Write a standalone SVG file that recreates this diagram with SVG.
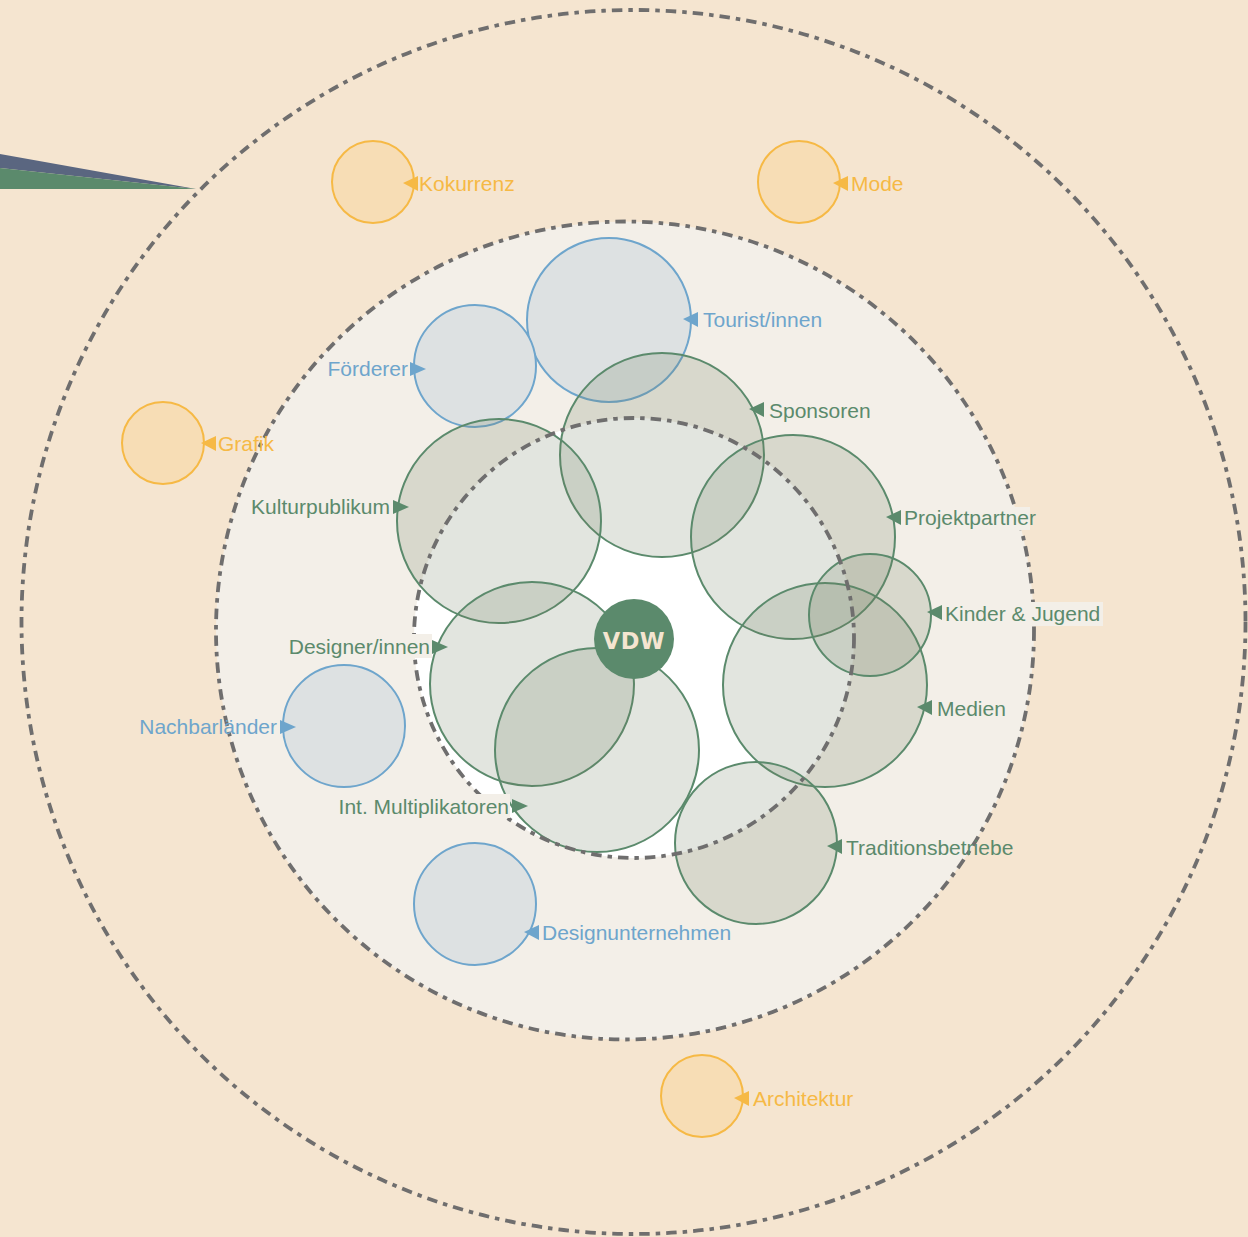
<svg xmlns="http://www.w3.org/2000/svg" width="1248" height="1237" viewBox="0 0 1248 1237">
<defs>
<style>
.ring{fill:none;stroke:#6f6e6e;stroke-width:3.8;stroke-dasharray:10.5 6 4.5 6}
.g{fill:#6e7d5f;fill-opacity:0.2;stroke:#5b8a6c;stroke-width:2}
.b{fill:#dde1e2;stroke:#6ea5cc;stroke-width:2}
.o{fill:#f7ddb5;stroke:#f6b945;stroke-width:2}
.t{font-family:"Liberation Sans",Arial,sans-serif;font-size:21px}
.tg{fill:#5b8a6c}.tb{fill:#6ea5cc}.to{fill:#f6b945}
.bg{fill:#f3efe8}
</style>
</defs>
<rect x="0" y="0" width="1248" height="1237" fill="#f5e5d0"/>
<g id="wedge">
<polygon points="0,154 196,189 0,168" fill="#5a6680"/>
<polygon points="0,168 196,189 0,189" fill="#5b8a6c"/>
</g>
<circle id="outer-ring" cx="633.5" cy="622" r="612" class="ring"/>
<circle id="middle-ring" cx="625" cy="630.5" r="409" class="ring" style="fill:#f3efe8"/>
<circle id="inner-area" cx="634" cy="638" r="220" fill="#ffffff"/>

<g id="node-kokurrenz"><circle cx="373" cy="182" r="41" class="o"/></g>
<g id="node-mode"><circle cx="799" cy="182" r="41" class="o"/></g>
<g id="node-grafik"><circle cx="163" cy="443" r="41" class="o"/></g>
<g id="node-architektur"><circle cx="702" cy="1096" r="41" class="o"/></g>

<g id="node-tourist"><circle cx="609" cy="320" r="82" class="b"/></g>
<g id="node-foerderer"><circle cx="475" cy="366" r="61" class="b"/></g>
<g id="node-nachbarlaender"><circle cx="344" cy="726" r="61" class="b"/></g>
<g id="node-designunternehmen"><circle cx="475" cy="904" r="61" class="b"/></g>

<g id="node-sponsoren"><circle cx="662" cy="455" r="102" class="g"/></g>
<g id="node-kulturpublikum"><circle cx="499" cy="521" r="102" class="g"/></g>
<g id="node-projektpartner"><circle cx="793" cy="537" r="102" class="g"/></g>
<g id="node-medien"><circle cx="825" cy="685" r="102" class="g"/></g>
<g id="node-kinder"><circle cx="870" cy="615" r="61" class="g"/></g>
<g id="node-designer"><circle cx="532" cy="684" r="102" class="g"/></g>
<g id="node-multiplikatoren"><circle cx="597" cy="750" r="102" class="g"/></g>
<g id="node-traditionsbetriebe"><circle cx="756" cy="843" r="81" class="g"/></g>

<circle id="inner-ring" cx="634" cy="638" r="220" class="ring"/>

<g id="node-vdw">
<circle cx="634" cy="639" r="40" fill="#5b8a6c"/>
<text x="634" y="648.5" text-anchor="middle" font-family="'DejaVu Sans',sans-serif" font-weight="bold" font-size="22.5" fill="#f5e5d0" letter-spacing="0.5">VDW</text>
</g>

<g id="connectors">
<polygon points="403,183 418,176 418,191" fill="#f6b945"/>
<polygon points="833,183 848,176 848,191" fill="#f6b945"/>
<polygon points="201,443 216,436 216,451" fill="#f6b945"/>
<polygon points="734,1098 749,1091 749,1106" fill="#f6b945"/>
<polygon points="683,319 698,312 698,327" fill="#6ea5cc"/>
<polygon points="426,369 410,362 410,376" fill="#6ea5cc"/>
<polygon points="296,727 280,720 280,734" fill="#6ea5cc"/>
<polygon points="524,932 539,925 539,940" fill="#6ea5cc"/>
<polygon points="749,409 764,402 764,417" fill="#5b8a6c"/>
<polygon points="409,507 393,500 393,514" fill="#5b8a6c"/>
<polygon points="886,517 901,510 901,525" fill="#5b8a6c"/>
<polygon points="927,612 942,605 942,620" fill="#5b8a6c"/>
<polygon points="917,707 932,700 932,715" fill="#5b8a6c"/>
<polygon points="448,647 432,640 432,654" fill="#5b8a6c"/>
<polygon points="528,806 512,799 512,813" fill="#5b8a6c"/>
<polygon points="827,846 842,839 842,854" fill="#5b8a6c"/>
</g>

<g id="labels">
<rect class="bg" x="902" y="507" width="128" height="23"/>
<rect class="bg" x="943" y="602" width="160" height="24"/>
<rect class="bg" x="284" y="634" width="148" height="24"/>
<rect class="bg" x="330" y="794" width="180" height="24"/>
<text class="t to" x="419" y="191">Kokurrenz</text>
<text class="t to" x="851" y="191">Mode</text>
<text class="t to" x="218" y="451">Grafik</text>
<text class="t to" x="753" y="1106">Architektur</text>
<text class="t tb" x="703" y="327">Tourist/innen</text>
<text class="t tb" x="408" y="376" text-anchor="end">Förderer</text>
<text class="t tb" x="277" y="734" text-anchor="end">Nachbarländer</text>
<text class="t tb" x="542" y="940">Designunternehmen</text>
<text class="t tg" x="769" y="418">Sponsoren</text>
<text class="t tg" x="390" y="514" text-anchor="end">Kulturpublikum</text>
<text class="t tg" x="904" y="525">Projektpartner</text>
<text class="t tg" x="945" y="621">Kinder &amp; Jugend</text>
<text class="t tg" x="937" y="716">Medien</text>
<text class="t tg" x="430" y="654" text-anchor="end">Designer/innen</text>
<text class="t tg" x="509" y="814" text-anchor="end">Int. Multiplikatoren</text>
<text class="t tg" x="846" y="855">Traditionsbetriebe</text>
</g>
</svg>
